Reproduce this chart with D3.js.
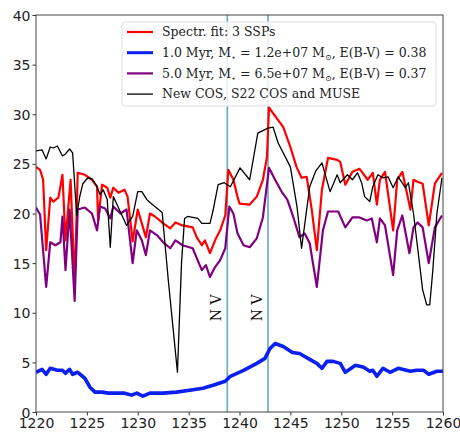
<!DOCTYPE html>
<html>
<head>
<meta charset="utf-8">
<script src="https://cdn.jsdelivr.net/npm/d3@7"></script>
<style>
  body { margin: 0; background: #fff; }
  .tick text { font-family: "DejaVu Sans", sans-serif; font-size: 14px; fill: #222; }
</style>
</head>
<body>
<div id="chart"></div>
<script>
var w = 460;
var h = 433;

// spectral fit, 3 SSPs  [wavelength, flux]
var fitData = [
  [1220,24.7],[1220.4,24.4],[1220.7,23.4],[1221,16.3],[1221.4,21.6],[1221.7,21.2],[1222.2,21.6],
  [1222.6,23.9],[1222.9,17.3],[1223.4,23.4],[1223.8,12.8],[1224.1,24.1],[1224.8,23.9],[1225.5,23.4],
  [1226,22.7],[1226.1,19.3],[1226.5,22.9],[1227,22.6],[1227.3,21.6],[1227.6,22.6],[1228.1,22.1],
  [1228.7,22.4],[1229,21.7],[1229.5,17.2],[1230,20.4],[1230.4,19],[1230.8,17.6],[1231.2,20],
  [1231.7,19.7],[1232.5,19],[1233.2,18.5],[1233.7,19.1],[1234.4,18.8],[1235.4,18.6],[1235.8,17.6],
  [1236.3,16.8],[1236.6,17.3],[1237.1,16],[1237.6,17.3],[1238.1,18.3],[1238.6,19.8],[1238.9,24.4],
  [1239.4,23.4],[1239.8,21.7],[1240,21],[1241,20.9],[1241.7,21.7],[1242.3,23.4],[1242.7,25.7],
  [1242.9,30.7],[1243.3,30.1],[1243.8,29.4],[1244.3,28.7],[1245,26.7],[1245.6,24.7],[1246.1,23.6],
  [1246.6,23.7],[1247.1,20.4],[1247.6,16.3],[1248.1,22.4],[1248.7,25.6],[1249.6,25.4],[1249.9,25.2],
  [1250.4,22.9],[1251.1,24.2],[1251.8,24.5],[1252.6,23.4],[1253.1,24.1],[1253.5,20.9],[1253.8,23.4],
  [1254.3,24.2],[1255.1,18.3],[1255.5,23.4],[1256,24.2],[1256.8,20.4],[1257.1,23.4],[1257.5,23.2],
  [1258,23],[1258.6,18.8],[1259.2,23],[1259.9,24.1]
];

// 1.0 Myr SSP
var young = [
  [1220,4.0],[1220.6,4.3],[1221,3.8],[1221.4,4.4],[1222.1,4.2],[1222.6,4.2],[1222.9,3.9],[1223.3,4.3],
  [1223.6,3.8],[1224.1,4.0],[1224.8,3.4],[1225.3,2.5],[1225.8,2.0],[1226.5,2.0],[1227.1,1.9],
  [1227.9,1.9],[1228.7,1.9],[1229.4,1.7],[1229.9,1.9],[1230.5,1.6],[1231.2,1.9],[1232.5,1.9],
  [1233.8,2.0],[1235.1,2.2],[1236.4,2.4],[1237.4,2.7],[1238.6,3.1],[1239.1,3.6],[1240.4,4.2],
  [1241.7,4.9],[1242.5,5.4],[1243,6.4],[1243.5,6.9],[1244.3,6.6],[1245.2,6.0],[1245.9,5.9],
  [1246.9,5.3],[1247.6,4.9],[1248.1,4.4],[1248.6,5.1],[1249.2,5.1],[1249.9,4.9],[1250.4,4.0],
  [1251.4,4.7],[1252.2,4.5],[1252.8,4.1],[1253.1,4.2],[1253.5,3.6],[1254.1,4.4],[1254.8,4.0],
  [1255.6,4.4],[1256.8,4.1],[1257.4,4.2],[1258.1,4.2],[1258.6,3.8],[1259.4,4.1],[1260,4.1]
];

// 5.0 Myr SSP
var older = [
  [1220,20.6],[1220.4,19.9],[1221,12.6],[1221.4,17.1],[1221.9,16.8],[1222.4,17.1],[1222.6,19.7],
  [1222.9,14.3],[1223.3,20.4],[1223.8,11.2],[1224.1,20.4],[1224.8,20.6],[1225.5,20],[1226,18.3],
  [1226.3,20.7],[1226.8,20.5],[1227.3,19.5],[1227.6,20.7],[1228.3,20],[1228.9,20.4],[1229.5,15],
  [1229.9,18.3],[1230.4,17.3],[1230.8,15.8],[1231.2,18.3],[1231.9,17.8],[1232.5,17.1],[1233.2,16.5],
  [1233.7,17.3],[1234.4,16.8],[1235.4,16.5],[1235.8,15.5],[1236.3,14.3],[1236.7,14.8],[1237.1,13.6],
  [1237.6,14.6],[1238.1,15.3],[1238.6,16.5],[1239,20.7],[1239.4,20],[1239.8,18],[1240.4,16.8],
  [1241,16.6],[1241.7,17.5],[1242.3,19.6],[1242.9,24.6],[1243.5,23.4],[1244.2,22.1],[1244.7,21.4],
  [1245.3,19.6],[1245.9,17.6],[1246.4,18],[1246.9,17],[1247.6,12.6],[1248.2,18.3],[1248.7,20.2],
  [1249.7,20.2],[1250.4,18.6],[1251.1,19.6],[1251.8,19.6],[1252.5,19.3],[1253,19.5],[1253.5,17.1],
  [1253.8,19.5],[1254.3,18.8],[1255.1,13.8],[1255.5,18.3],[1256,19.8],[1256.7,16],[1257.1,18.6],
  [1257.5,19.1],[1258,18.6],[1258.6,15],[1259.2,18.6],[1259.9,19.8]
];

// observed: New COS, S22 COS and MUSE
var observed = [
  [1220,26.3],[1220.6,26.4],[1221,25.5],[1221.4,26.7],[1221.7,26.6],[1222.1,26.8],[1222.6,25.8],
  [1222.9,26.0],[1223.3,26.5],[1223.6,26.1],[1224.0,19.8],[1224.3,21.7],[1224.6,23.0],[1225.1,23.6],
  [1225.5,23.5],[1226,22.7],[1226.3,21.9],[1226.6,22.4],[1227,21.4],[1227.3,16.6],[1227.6,21.7],
  [1228.1,20.6],[1228.9,18.8],[1229.5,19.7],[1230,22.2],[1230.4,22.2],[1230.9,21.4],[1231.2,21.1],
  [1232.4,20.1],[1233,13.3],[1233.9,4.0],[1234.3,15],[1234.6,19.5],[1234.9,19.7],[1235.9,19.5],
  [1236.3,19.0],[1237.1,19.0],[1237.4,20.3],[1237.9,22.9],[1238.5,23.1],[1239.1,22.7],[1240.05,24.6],
  [1241,23.4],[1241.8,28.1],[1242.8,28.6],[1243.3,28.7],[1243.8,27.1],[1245,24.7],[1245.65,20.7],
  [1246.1,16.5],[1246.9,22.7],[1247.5,24.3],[1248.1,25.1],[1248.9,22.2],[1249.6,23.9],[1249.9,23.1],
  [1250.6,23.9],[1251.1,23.4],[1251.6,24.1],[1252,23.1],[1252.3,21.7],[1252.8,21.2],[1253.1,22.7],
  [1253.6,23.9],[1254.1,23.6],[1254.6,23.7],[1255.1,22.6],[1255.6,23.7],[1256.3,22.6],[1256.6,23.1],
  [1257.1,20],[1257.5,16.6],[1258,12.3],[1258.4,10.8],[1258.7,10.8],[1259,14.3],[1259.4,20],[1259.9,23.6]
];

var lineWaves = [1238.8, 1242.8];
var lineNames = ["N V", "N V"];
var xTicks = [1220, 1225, 1230, 1235, 1240, 1245, 1250, 1255, 1260];
var yTicks = [0, 5, 10, 15, 20, 25, 30, 35, 40];

var margin = {top: 15, right: 17, bottom: 21, left: 36};
var pw = w - margin.left - margin.right;
var ph = h - margin.top - margin.bottom;

var svg = d3.select("#chart").append("svg")
  .attr("width", w)
  .attr("height", h);

var g = svg.append("g")
  .attr("transform", "translate(" + margin.left + "," + margin.top + ")");

var x = d3.scaleLinear().domain([1220, 1260]).range([0, pw]);
var y = d3.scaleLinear().domain([0, 40]).range([ph, 0]);

g.append("defs").append("clipPath").attr("id", "clip")
  .append("rect").attr("width", pw).attr("height", ph);

// axes
var xAxis = g.append("g")
  .attr("transform", "translate(0," + ph + ")")
  .call(d3.axisBottom(x).tickValues(xTicks).tickFormat(d3.format("d")).tickSize(3.5).tickPadding(1));
var yAxis = g.append("g")
  .call(d3.axisLeft(y).tickValues(yTicks).tickFormat(d3.format("d")).tickSize(3.5).tickPadding(2));
xAxis.select(".domain").remove();
yAxis.select(".domain").remove();
xAxis.selectAll(".tick line").attr("stroke", "#333");
yAxis.selectAll(".tick line").attr("stroke", "#333");
xAxis.selectAll(".tick text").attr("dy", "0.85em");
yAxis.selectAll(".tick text").attr("dy", "0.36em");

var line = d3.line()
  .x(function(d) { return x(d[0]); })
  .y(function(d) { return y(d[1]); });

var plot = g.append("g").attr("clip-path", "url(#clip)");

// N V lines
plot.selectAll(".nv")
  .data(lineWaves)
  .enter()
  .append("line")
  .attr("x1", function(d) { return x(d); })
  .attr("x2", function(d) { return x(d); })
  .attr("y1", 0)
  .attr("y2", ph)
  .attr("stroke", "#62a8c9")
  .attr("stroke-width", 1.6);

var series = [
  {data: fitData, color: "#ff0000", width: 2.2},
  {data: young, color: "#0a1ff0", width: 3.6},
  {data: older, color: "#800080", width: 2.2},
  {data: observed, color: "#000000", width: 1.3}
];

// blue first, then red, purple and black on top
[series[1], series[0], series[2], series[3]].forEach(function(s) {
  plot.append("path")
    .datum(s.data)
    .attr("fill", "none")
    .attr("stroke", s.color)
    .attr("stroke-width", s.width)
    .attr("stroke-linejoin", "round")
    .attr("d", line);
});

// N V labels
g.selectAll(".nvlab")
  .data(lineWaves)
  .enter()
  .append("text")
  .attr("transform", function(d) {
    return "translate(" + (x(d) - 6) + "," + y(10.5) + ") rotate(-90)";
  })
  .attr("text-anchor", "middle")
  .attr("font-family", "DejaVu Serif, serif")
  .attr("font-size", 14)
  .attr("fill", "#111")
  .text(function(d, i) { return lineNames[i]; });

// frame
g.append("rect")
  .attr("width", pw)
  .attr("height", ph)
  .attr("fill", "none")
  .attr("stroke", "#444")
  .attr("stroke-width", 1);

// legend
var leg = g.append("g").attr("transform", "translate(" + (122 - margin.left) + "," + (22 - margin.top) + ")");
leg.append("rect")
  .attr("width", 314)
  .attr("height", 84)
  .attr("rx", 3)
  .attr("fill", "#fff")
  .attr("fill-opacity", 0.85)
  .attr("stroke", "#ddd");

var legRows = [
  {s: series[0], parts: [["Spectr. fit: 3 SSPs", null]]},
  {s: series[1], parts: [["1.0 Myr, M", null], ["\u22c6", "sub"], [" = 1.2e+07 M", null], ["\u2299", "sub"], [", E(B-V) = 0.38", null]]},
  {s: series[2], parts: [["5.0 Myr, M", null], ["\u22c6", "sub"], [" = 6.5e+07 M", null], ["\u2299", "sub"], [", E(B-V) = 0.37", null]]},
  {s: series[3], parts: [["New COS, S22 COS and MUSE", null]]}
];

legRows.forEach(function(r, i) {
  var ry = 10 + i * 20.7;
  leg.append("line")
    .attr("x1", 5).attr("x2", 31)
    .attr("y1", ry).attr("y2", ry)
    .attr("stroke", r.s.color)
    .attr("stroke-width", Math.min(r.s.width, 3));
  var t = leg.append("text")
    .attr("x", 40)
    .attr("y", ry)
    .attr("dy", "0.35em")
    .attr("font-family", "DejaVu Serif, serif")
    .attr("font-size", 12.5)
    .attr("fill", "#222");
  r.parts.forEach(function(p) {
    var ts = t.append("tspan").text(p[0]);
    if (p[1] == "sub") {
      ts.attr("font-size", 8).attr("dy", 3);
    } else if (t.selectAll("tspan").size() > 1) {
      ts.attr("dy", -3);
    }
  });
});
</script>
</body>
</html>
